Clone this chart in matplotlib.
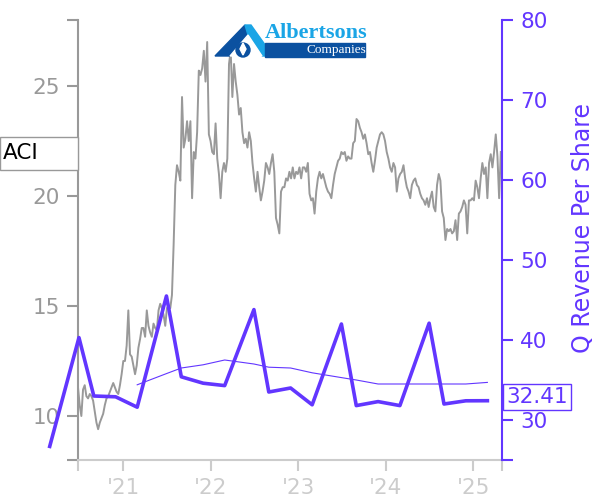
import pandas as pd
import matplotlib
matplotlib.use('Agg')
import matplotlib.pyplot as plt
import matplotlib.dates as mdates
from matplotlib.patches import Rectangle, Polygon, Circle
from matplotlib.transforms import blended_transform_factory

# weekly closes of ACI
price_start = '2020-06-26'
price = [
    11.3, 10.5, 10.0, 11.2, 11.4, 10.9, 10.8, 11.0, 10.9, 10.7,
    10.2, 9.7, 9.4, 9.7, 9.9, 10.1, 10.5, 10.8, 10.9, 11.1,
    11.3, 11.5, 11.3, 11.1, 11.0, 11.4, 11.9, 12.5, 12.5, 13.2,
    14.8, 12.8, 12.7, 12.3, 11.9, 12.3, 13.1, 13.5, 14.0, 14.0,
    13.6, 14.8, 14.1, 13.8, 13.6, 14.2, 14.0, 13.9, 14.8, 15.1,
    14.9, 14.6, 14.1, 14.9, 15.0, 14.9, 15.5, 17.8, 20.5, 21.4,
    21.1, 20.7, 24.5, 22.2, 22.6, 23.4, 22.5, 23.4, 19.9, 22.0,
    21.7, 22.9, 25.7, 25.5, 25.8, 26.6, 25.2, 27.0, 22.8, 22.5,
    22.0, 21.9, 23.3, 21.7, 21.0, 19.9, 21.1, 21.5, 21.1, 21.7,
    26.0, 26.6,
    24.5, 26.0, 25.2, 24.6, 23.7, 24.0, 22.9, 22.4, 22.6, 22.2,
    22.9, 22.5, 21.5, 20.8, 20.2, 21.1, 20.4, 19.8, 20.2, 20.7,
    21.5, 21.3, 21.0, 21.5, 21.9, 21.1, 19.0, 18.7, 18.3, 20.2,
    20.4, 20.4, 20.8, 20.7, 21.1, 20.8, 21.3, 20.8, 21.1, 21.0,
    21.3, 20.8, 21.3, 21.3, 21.1,
    21.5, 20.1, 19.8, 19.9, 19.2, 20.2, 20.8, 21.1, 20.8, 21.0,
    20.7, 20.4, 20.2, 20.1, 19.9, 20.5, 21.0, 21.3, 21.6, 21.7,
    22.0, 21.9, 22.0, 21.6, 21.8, 21.7, 21.7, 22.4, 22.5, 23.5,
    23.4, 23.1, 22.9, 22.6, 22.8, 22.4, 21.9, 22.0, 21.5, 21.1,
    21.6, 22.2, 22.5, 22.8, 22.9, 22.8,
    22.5, 22.0, 21.7, 21.3, 21.1, 21.5, 21.3, 20.2, 20.8, 21.0,
    21.1, 21.4, 20.8, 20.4, 20.2, 19.9, 20.5, 20.7, 20.8, 20.5,
    20.4, 20.1, 19.9, 19.8, 19.6, 19.9, 19.5, 19.9, 20.2, 19.5,
    19.3, 20.5, 21.0, 20.7, 19.3, 19.0, 18.0, 18.5, 18.4, 18.5,
    18.3, 18.4, 18.9, 18.0, 19.2, 19.3, 19.5, 19.8, 19.6, 18.3,
    19.8, 19.8, 19.9, 19.8, 20.7, 20.4, 19.9, 20.8, 21.5, 21.0,
    21.3, 19.9, 21.5, 21.9, 21.3, 22.0, 22.8, 21.8, 19.9, 22.0,
]
price_dates = pd.date_range(price_start, periods=len(price), freq='7D')

# quarterly revenue per share
rev_dates = pd.to_datetime([
    '2020-02-29', '2020-06-30', '2020-08-31', '2020-11-30',
    '2021-02-28', '2021-06-30', '2021-08-31', '2021-11-30',
    '2022-02-28', '2022-06-30', '2022-08-31', '2022-11-30',
    '2023-02-28', '2023-06-30', '2023-08-31', '2023-11-30',
    '2024-02-29', '2024-06-30', '2024-08-31', '2024-11-30',
    '2025-02-28',
])
rev_q = [26.7, 40.3, 33.0, 32.9, 31.6, 45.5, 35.4, 34.6, 34.3, 43.8,
         33.5, 34.0, 31.9, 42.0, 31.8, 32.3, 31.8, 42.1, 32.0, 32.4,
         32.41]
# trailing average line (starts Feb 2021)
rev_avg = [34.4, 35.8, 36.5, 36.9, 37.5, 37.0, 36.6, 36.5, 35.9,
           35.3, 35.0, 34.5, 34.5, 34.5, 34.5, 34.5, 34.7]

purple = '#6236ff'
grey = '#999999'
light = '#cccccc'
fs = 15.5

fig = plt.figure(figsize=(6, 5), dpi=100)
ax = fig.add_axes([78 / 600, 40 / 500, 424 / 600, 440 / 500])
ax2 = ax.twinx()

ax.plot(price_dates, price, color=grey, lw=1.4)
ax2.plot(rev_dates, rev_q, color=purple, lw=2.6, clip_on=False)
ax2.plot(rev_dates[4:], rev_avg, color=purple, lw=0.8)

x_end = pd.Timestamp('2025-04-30')
ax.set_xlim(price_dates[0], x_end)
ax.set_ylim(8, 28)
ax2.set_ylim(25, 80)

for s in ['top', 'right']:
    ax.spines[s].set_visible(False)
for s in ['top', 'left', 'bottom']:
    ax2.spines[s].set_visible(False)
ax.spines['left'].set_color(grey)
ax.spines['left'].set_linewidth(1.5)
ax.spines['bottom'].set_color(light)
ax.spines['bottom'].set_linewidth(1.5)
ax2.spines['right'].set_color(purple)
ax2.spines['right'].set_linewidth(1.5)

ax.set_yticks([10, 15, 20, 25])
ax.set_yticks([8, 28], minor=True)
ax.tick_params(axis='y', which='both', colors=grey, labelsize=fs,
               length=8, width=1.5, pad=5)
ax.xaxis.set_major_locator(mdates.YearLocator())
ax.xaxis.set_major_formatter(mdates.DateFormatter("'%y"))
ax.set_xticks([mdates.date2num(price_dates[0]), mdates.date2num(x_end)],
              minor=True)
ax.tick_params(axis='x', which='both', colors=light, labelsize=fs,
               length=8, width=1.5, pad=5)

ax2.set_yticks([30, 40, 50, 60, 70, 80])
ax2.set_yticks([25], minor=True)
ax2.tick_params(axis='y', which='both', colors=purple, labelsize=fs,
                length=8, width=1.5, pad=5)
ax2.set_ylabel('Q Revenue Per Share', color=purple, fontsize=17)
ax2.yaxis.set_label_coords(1.162, 0.527)

# ticker label on the left
tr = blended_transform_factory(ax.transAxes, ax.transData)
ax.add_patch(Rectangle((-78 / 424, price[-1] - 0.8), 78 / 424, 1.5,
                       transform=tr, clip_on=False, facecolor='white',
                       edgecolor=grey, lw=1, zorder=5))
ax.text(-0.178, price[-1] - 0.05, 'ACI', transform=tr, fontsize=fs,
        color='black', va='center', ha='left', zorder=6)

# last value label on the right
tr2 = blended_transform_factory(ax2.transAxes, ax2.transData)
ax2.annotate('32.41', xy=(1, rev_q[-1]), xycoords=tr2,
             xytext=(3, 2.5), textcoords='offset points',
             va='center', ha='left', color=purple, fontsize=fs,
             bbox=dict(boxstyle='square,pad=0.15', fc='white',
                       ec=purple, lw=1), annotation_clip=False)

# logo
dark = '#0b51a0'
cyan = '#1aa5e6'
lax = fig.add_axes([205 / 600, 1 - 65 / 500, 165 / 600, 45 / 500])
lax.set_xlim(0, 165)
lax.set_ylim(45, 0)
lax.axis('off')
lax.add_patch(Polygon([(10, 36), (40, 5), (43, 15), (25, 36)], color=dark))
lax.add_patch(Polygon([(40, 5), (46, 5), (68, 36), (57, 36), (43, 15)],
                      color=cyan))
lax.add_patch(Polygon([(25, 36), (43, 15), (57, 36)], color='white'))
lax.add_patch(Circle((38, 30), 7, color=dark))
lax.add_patch(Polygon([(38, 23), (35, 29), (38, 35), (41, 29)],
                      color='white'))
lax.add_patch(Rectangle((60, 23), 100, 14, color=dark))
lax.text(111, 12.5, 'Albertsons', color=cyan, fontsize=16, fontweight='bold',
         family='Liberation Serif', ha='center', va='center')
lax.text(131, 30, 'Companies', color='white', fontsize=9.5,
         family='Liberation Serif', ha='center', va='center')

fig.savefig('out.png')
